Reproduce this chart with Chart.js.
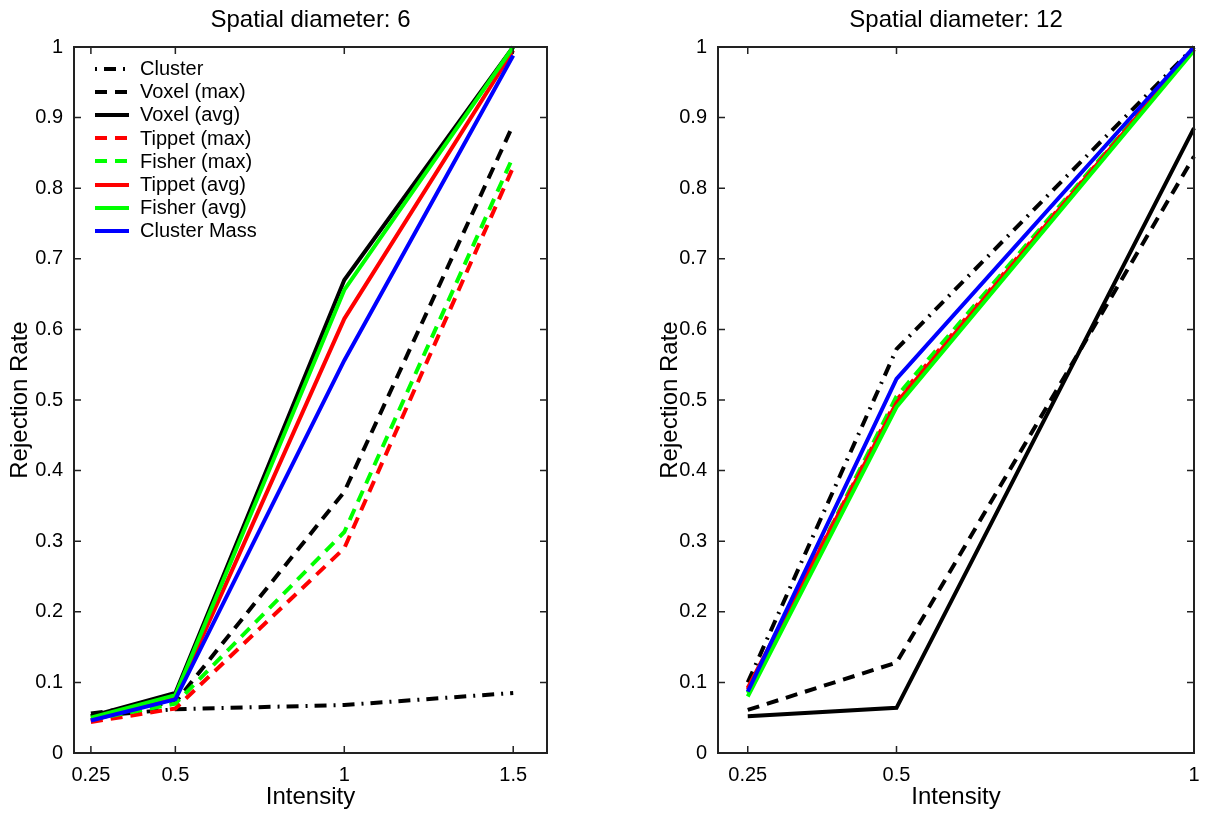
<!DOCTYPE html>
<html>
<head>
<meta charset="utf-8">
<script src="https://cdn.jsdelivr.net/npm/chart.js@4.4.1/dist/chart.umd.min.js"></script>
<style>
  body { margin: 0; background: #fff; width: 1209px; height: 813px; overflow: hidden; position: relative; font-family: "Liberation Sans", Arial, sans-serif; }
  canvas { position: absolute; top: 0; }
  #c6 { left: 0; }
  #c12 { left: 604px; }
  #legend { position: absolute; left: 95px; top: 57px; }
  .row { display: flex; align-items: center; height: 23.2px; font-size: 20px; color: #000; white-space: nowrap; }
  .row svg { width: 34px; height: 6px; margin-right: 11px; }
</style>
</head>
<body>
<canvas id="c6" width="604" height="813"></canvas>
<canvas id="c12" width="605" height="813"></canvas>
<div id="legend"></div>
<script>
// Signal intensities tested in each panel
const intensity6 = [0.25, 0.5, 1, 1.5];
const intensity12 = [0.25, 0.5, 1];

const methods = ["Cluster", "Voxel (max)", "Voxel (avg)", "Tippet (max)", "Fisher (max)", "Tippet (avg)", "Fisher (avg)", "Cluster Mass"];
const colors = ["#000000", "#000000", "#000000", "#ff0000", "#00ff00", "#ff0000", "#00ff00", "#0000ff"];
const dashes = [[12, 7, 2, 7], [12, 8], [], [12, 8], [12, 8], [], [], []];

// Rejection rates, spatial diameter 6
const cluster6 = [0.052, 0.062, 0.068, 0.085];
const voxelMax6 = [0.056, 0.072, 0.37, 0.89];
const voxelAvg6 = [0.052, 0.085, 0.67, 1.0];
const tippetMax6 = [0.044, 0.063, 0.29, 0.83];
const fisherMax6 = [0.047, 0.07, 0.313, 0.845];
const tippetAvg6 = [0.046, 0.079, 0.615, 0.995];
const fisherAvg6 = [0.05, 0.082, 0.656, 1.0];
const clusterMass6 = [0.046, 0.076, 0.556, 0.988];

// Rejection rates, spatial diameter 12
const cluster12 = [0.1, 0.572, 1.0];
const voxelMax12 = [0.061, 0.128, 0.845];
const voxelAvg12 = [0.052, 0.064, 0.885];
const tippetMax12 = [0.09, 0.5, 0.997];
const fisherMax12 = [0.085, 0.505, 0.997];
const tippetAvg12 = [0.092, 0.496, 0.997];
const fisherAvg12 = [0.08, 0.49, 0.995];
const clusterMass12 = [0.087, 0.53, 1.0];

const rates6 = [cluster6, voxelMax6, voxelAvg6, tippetMax6, fisherMax6, tippetAvg6, fisherAvg6, clusterMass6];
const rates12 = [cluster12, voxelMax12, voxelAvg12, tippetMax12, fisherMax12, tippetAvg12, fisherAvg12, clusterMass12];

const yTicks = [0, 0.1, 0.2, 0.3, 0.4, 0.5, 0.6, 0.7, 0.8, 0.9, 1];
const yTickLabels = ["0", "0.1", "0.2", "0.3", "0.4", "0.5", "0.6", "0.7", "0.8", "0.9", "1"];

const axisColor = "#222";

// box around the plot area with inward ticks on all four sides
const axisBox = {
    id: "axisBox",
    afterDatasetsDraw(chart) {
        const { ctx, chartArea: a, scales: { x, y } } = chart;
        ctx.save();
        ctx.strokeStyle = axisColor;
        ctx.lineWidth = 2;
        ctx.strokeRect(a.left, a.top, a.right - a.left, a.bottom - a.top);
        ctx.lineWidth = 1.5;
        ctx.beginPath();
        x.ticks.forEach(t => {
            const px = x.getPixelForValue(t.value);
            ctx.moveTo(px, a.bottom); ctx.lineTo(px, a.bottom - 7);
            ctx.moveTo(px, a.top); ctx.lineTo(px, a.top + 7);
        });
        y.ticks.forEach(t => {
            const py = y.getPixelForValue(t.value);
            ctx.moveTo(a.left, py); ctx.lineTo(a.left + 7, py);
            ctx.moveTo(a.right, py); ctx.lineTo(a.right - 7, py);
        });
        ctx.stroke();
        ctx.restore();
    }
};

function makePanel(id, title, xs, rates, xMin, xMax, axisWidth, padRight, yTitlePad) {
    const datasets = methods.map((name, i) => ({
        label: name,
        data: xs.map((x, j) => ({ x: x, y: rates[i][j] })),
        borderColor: colors[i],
        borderDash: dashes[i],
        borderWidth: 4,
        pointRadius: 0,
        fill: false,
        tension: 0,
        clip: false,
        order: methods.length - i   // later series drawn on top
    }));

    return new Chart(document.getElementById(id), {
        type: "line",
        data: { datasets },
        options: {
            responsive: false,
            animation: false,
            layout: { padding: { left: 0, right: padRight, top: 0, bottom: 0 } },
            plugins: {
                legend: { display: false },
                tooltip: { enabled: false },
                title: {
                    display: true,
                    text: title,
                    fullSize: false,
                    color: "#000",
                    font: { size: 24, weight: "normal", lineHeight: 1 },
                    padding: { top: 8, bottom: 15 }
                }
            },
            scales: {
                x: {
                    type: "linear",
                    min: xMin,
                    max: xMax,
                    grid: { display: false },
                    border: { display: false },
                    afterBuildTicks: s => { s.ticks = xs.map(v => ({ value: v })); },
                    afterFit: s => { s.height = 60; },
                    ticks: { color: "#000", font: { size: 20 }, padding: 2, maxRotation: 0, autoSkip: false, callback: v => String(v) },
                    title: { display: true, text: "Intensity", color: "#000", font: { size: 24, lineHeight: 1 }, padding: { top: 0, bottom: 4 } }
                },
                y: {
                    type: "linear",
                    min: 0,
                    max: 1,
                    grid: { display: false },
                    border: { display: false },
                    afterBuildTicks: s => { s.ticks = yTicks.map(v => ({ value: v })); },
                    afterFit: s => { s.width = axisWidth; },
                    ticks: { color: "#000", font: { size: 20 }, padding: 3, autoSkip: false, callback: (v, i) => yTickLabels[i] },
                    title: { display: true, text: "Rejection Rate", color: "#000", font: { size: 24, lineHeight: 1 }, padding: { top: yTitlePad, bottom: 0 } }
                }
            }
        },
        plugins: [axisBox]
    });
}

makePanel("c6", "Spatial diameter: 6", intensity6, rates6, 0.2, 1.6, 74, 57, 8);
makePanel("c12", "Spatial diameter: 12", intensity12, rates12, 0.2, 1.0, 114, 15, 54);

// legend inside the left panel
const legend = document.getElementById("legend");
methods.forEach((name, i) => {
    const row = document.createElement("div");
    row.className = "row";
    const dash = i === 0 ? "2,7,12,7" : dashes[i].join(",");
    row.innerHTML = `<svg viewBox="0 0 34 6"><line x1="0" y1="3" x2="34" y2="3" stroke="${colors[i]}" stroke-width="4"${dash ? ` stroke-dasharray="${dash}"` : ""}/></svg><span>${name}</span>`;
    legend.appendChild(row);
});
</script>
</body>
</html>
